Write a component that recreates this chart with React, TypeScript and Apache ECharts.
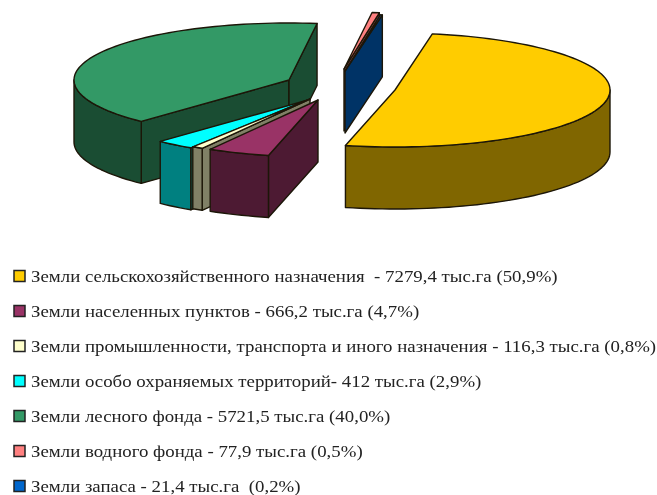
import React, { useEffect, useRef } from "react";
import * as echarts from "echarts";

const legendLabels = [
  "Земли сельскохозяйственного назначения  - 7279,4 тыс.га (50,9%)",
  "Земли населенных пунктов - 666,2 тыс.га (4,7%)",
  "Земли промышленности, транспорта и иного назначения - 116,3 тыс.га (0,8%)",
  "Земли особо охраняемых территорий- 412 тыс.га (2,9%)",
  "Земли лесного фонда - 5721,5 тыс.га (40,0%)",
  "Земли водного фонда - 77,9 тыс.га (0,5%)",
  "Земли запаса - 21,4 тыс.га  (0,2%)",
];
const values = [7279.4, 666.2, 116.3, 412, 5721.5, 77.9, 21.4];
const topColors = ["#FFCC00", "#993366", "#FFFFCC", "#00FFFF", "#339966", "#FF8080", "#0066CC"];
const sideColors = ["#806600", "#4D1A33", "#808066", "#008080", "#1A4D33", "#804040", "#003366"];
const drawOrder = [4, 5, 6, 0, 3, 2, 1];

// Layout of the exploded 3D pie
const RX = 215;
const RY = 57;
const DEPTH = 62;
const START_DEG = -80;
const sliceCenters = [
  [395, 90],
  [318, 100],
  [310, 99],
  [308, 100],
  [289, 80],
  [344, 69],
  [345, 71],
];
const total = values.reduce((a, b) => a + b, 0);
const startAngles: number[] = [];
values.reduce((acc, v) => {
  startAngles.push(acc);
  return acc + (v / total) * 360;
}, START_DEG);

const rad = (d: number) => (d * Math.PI) / 180;
const OUTLINE = "#1c1608";

function renderSlice(_params: any, api: any) {
  const idx = api.value(1);
  const v = api.value(0);
  const [cx, cy] = sliceCenters[idx];
  const a0 = startAngles[idx];
  const a1 = a0 + (v / total) * 360;
  const pt = (deg: number, dy = 0) => [cx + RX * Math.cos(rad(deg)), cy + RY * Math.sin(rad(deg)) + dy];
  const arc = (from: number, to: number, dy = 0) => {
    const n = Math.max(1, Math.ceil(Math.abs(to - from) / 2));
    const out: number[][] = [];
    for (let i = 0; i <= n; i++) out.push(pt(from + ((to - from) * i) / n, dy));
    return out;
  };
  const style = (fill: string) => ({ fill, stroke: OUTLINE, lineWidth: 1.4, lineJoin: "round" });
  const children: any[] = [];
  const wall = (deg: number) => {
    const p = pt(deg);
    children.push({
      type: "polygon",
      shape: { points: [[cx, cy], p, [p[0], p[1] + DEPTH], [cx, cy + DEPTH]] },
      style: style(sideColors[idx]),
    });
  };
  if (Math.cos(rad(a0)) < 0) wall(a0);
  if (Math.cos(rad(a1)) > 0) wall(a1);
  for (const k of [0, 360]) {
    const from = Math.max(a0, k);
    const to = Math.min(a1, k + 180);
    if (to > from) {
      children.push({
        type: "polygon",
        shape: { points: [...arc(from, to), ...arc(to, from, DEPTH)] },
        style: style(sideColors[idx]),
      });
    }
  }
  children.push({
    type: "polygon",
    shape: { points: [[cx, cy], ...arc(a0, a1)] },
    style: style(topColors[idx]),
  });
  return { type: "group", children };
}

const legendGraphics = legendLabels.flatMap((label, i) => {
  const y = 276.5 + i * 35;
  return [
    {
      type: "rect",
      shape: { x: 14, y: y - 6, width: 11, height: 11 },
      style: { fill: topColors[i], stroke: "#222", lineWidth: 1.5 },
    },
    {
      type: "text",
      x: 31,
      y,
      scaleX: 1.143,
      style: {
        text: label,
        fill: "#222",
        font: '16.5px "Liberation Serif", serif',
        verticalAlign: "middle",
      },
    },
  ];
});

export default function App() {
  const ref = useRef<HTMLDivElement>(null);
  useEffect(() => {
    const chart = echarts.init(ref.current!, undefined, { renderer: "svg" });
    chart.setOption({
      animation: false,
      backgroundColor: "#fff",
      series: [
        {
          type: "custom",
          coordinateSystem: "none",
          silent: true,
          renderItem: renderSlice,
          data: drawOrder.map((i) => ({ name: legendLabels[i], value: [values[i], i] })),
        },
      ],
      graphic: { elements: legendGraphics },
    });
    return () => chart.dispose();
  }, []);
  return (
    <div
      ref={ref}
      style={{ position: "absolute", left: 0, top: 0, width: 657, height: 495, filter: "blur(0.4px)" }}
    />
  );
}
